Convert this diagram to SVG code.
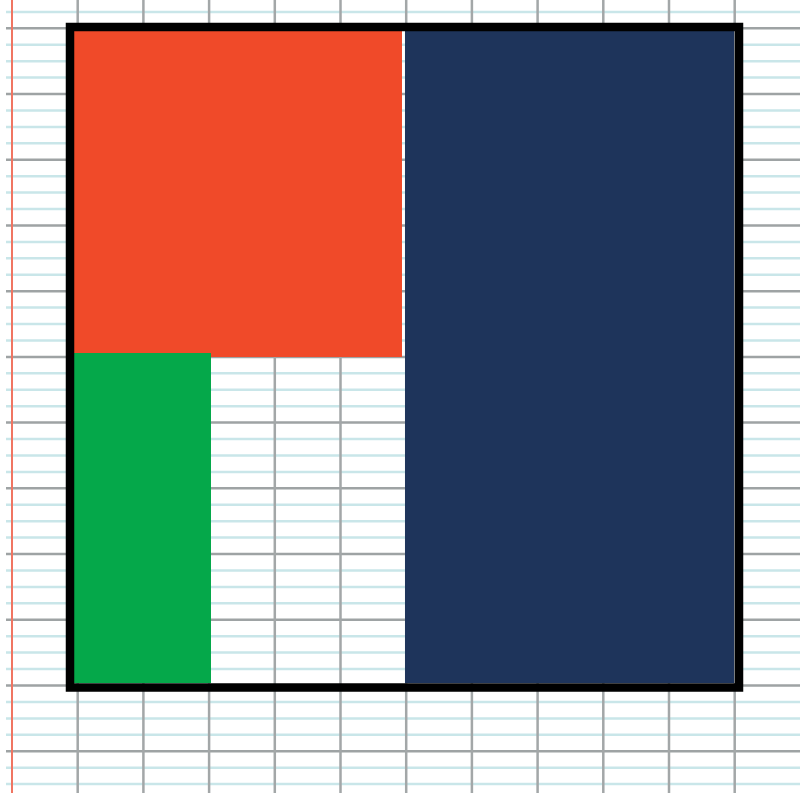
<svg xmlns="http://www.w3.org/2000/svg" width="800" height="793" viewBox="0 0 800 793">
  <style>
    .light { stroke: #c9e6e9; stroke-width: 2.5; fill: none; }
    .major { stroke: #9ea3a4; stroke-width: 2.5; fill: none; }
    .vert { stroke: #a3a7a8; stroke-width: 2.5; fill: none; }
    .margin { stroke: #f07562; stroke-width: 2; fill: none; }
  </style>
  <rect x="0" y="0" width="800" height="793" fill="#ffffff"/>
  <g id="paper">
    <path class="light" d="M6 11.9H800M6 44.7H800M6 61.2H800M6 77.6H800M6 110.4H800M6 126.9H800M6 143.3H800M6 176.2H800M6 192.6H800M6 209H800M6 241.9H800M6 258.3H800M6 274.7H800M6 307.6H800M6 324H800M6 340.5H800M6 373.3H800M6 389.8H800M6 406.2H800M6 439H800M6 455.5H800M6 471.9H800M6 504.8H800M6 521.2H800M6 537.6H800M6 570.5H800M6 586.9H800M6 603.3H800M6 636.2H800M6 652.6H800M6 669.1H800M6 701.9H800M6 718.4H800M6 734.8H800M6 767.7H800M6 784.1H800"/>
    <path class="major" d="M6 28.3H800M6 94H800M6 159.7H800M6 225.5H800M6 291.2H800M6 356.9H800M6 422.6H800M6 488.3H800M6 554.1H800M6 619.8H800M6 685.5H800M6 751.2H800"/>
    <path class="vert" d="M77.7 0V793M143.4 0V793M209.1 0V793M274.8 0V793M340.5 0V793M406.2 0V793M471.9 0V793M537.6 0V793M603.3 0V793M669 0V793M734.7 0V793"/>
    <path class="margin" d="M12 0V793"/>
  </g>
  <g id="red-block">
    <rect x="74" y="31" width="328" height="326" fill="#f04a29"/>
  </g>
  <g id="navy-block">
    <rect x="405" y="31" width="329" height="652" fill="#1e345b"/>
  </g>
  <g id="green-block">
    <rect x="74" y="353" width="137" height="330" fill="#05a84a"/>
  </g>
  <g id="frame">
    <rect x="70" y="27" width="669" height="660.5" fill="none" stroke="#000000" stroke-width="8.5"/>
  </g>
</svg>
